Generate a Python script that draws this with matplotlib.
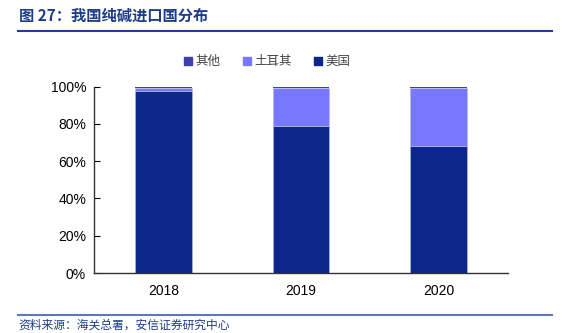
import matplotlib.pyplot as plt
from matplotlib.patches import Patch

plt.rcParams['font.family'] = ['Noto Sans CJK SC', 'DejaVu Sans']

years = ['2018', '2019', '2020']
usa = [97.5, 79.0, 68.0]
turkey = [1.6, 20.0, 31.0]
other = [0.9, 1.0, 1.0]

c_usa = '#0C2689'
c_turkey = '#7878FF'
c_other = '#4040AA'

fig = plt.figure(figsize=(5.69, 3.33), dpi=100)
ax = fig.add_axes([0.166, 0.18, 0.726, 0.56])

x = range(len(years))
w = 0.41
ax.bar(x, usa, w, color=c_usa, edgecolor='#B8BCE0', linewidth=0.4)
ax.bar(x, turkey, w, bottom=usa, color=c_turkey, edgecolor='#B8BCE0', linewidth=0.4)
bot2 = [a + b for a, b in zip(usa, turkey)]
ax.bar(x, other, w, bottom=bot2, color=c_other, linewidth=0)

ax.set_xlim(-0.5, 2.5)
ax.set_ylim(0, 100)
ax.set_yticks(range(0, 101, 20))
ax.set_yticklabels([f'{v}%' for v in range(0, 101, 20)], fontsize=10,
                   family=['Liberation Sans'])
ax.set_xticks(list(x))
ax.set_xticklabels(years, fontsize=10, family=['Liberation Sans'])
ax.tick_params(axis='x', length=0, pad=8)
ax.tick_params(axis='y', length=4, direction='in', pad=6)
for s in ['top', 'right']:
    ax.spines[s].set_visible(False)
for s in ['left', 'bottom']:
    ax.spines[s].set_color('#333333')
    ax.spines[s].set_linewidth(1.0)

handles = [Patch(color=c_other, label='其他'),
           Patch(color=c_turkey, label='土耳其'),
           Patch(color=c_usa, label='美国')]
leg = fig.legend(handles=handles, loc='center', bbox_to_anchor=(0.47, 0.815), ncol=3,
                 frameon=False, fontsize=9, handlelength=0.6, handleheight=0.6,
                 handletextpad=0.3, columnspacing=1.8)
for t in leg.get_texts():
    t.set_color('#444444')

# header / footer
fig.text(0.033, 0.952, '图 27：我国纯碱进口国分布', fontsize=11, fontweight='bold',
         color='#1F3C88', va='center')
fig.add_artist(plt.Line2D([0.032, 0.97], [0.907, 0.907], color='#1F3C9C', linewidth=1.5))
fig.add_artist(plt.Line2D([0.032, 0.97], [0.054, 0.054], color='#5A7AB8', linewidth=1.5))
fig.text(0.033, 0.024, '资料来源：海关总署，安信证券研究中心', fontsize=8.5, color='#1F3C88',
         va='center', style='italic')

fig.savefig('out.png', dpi=100)
